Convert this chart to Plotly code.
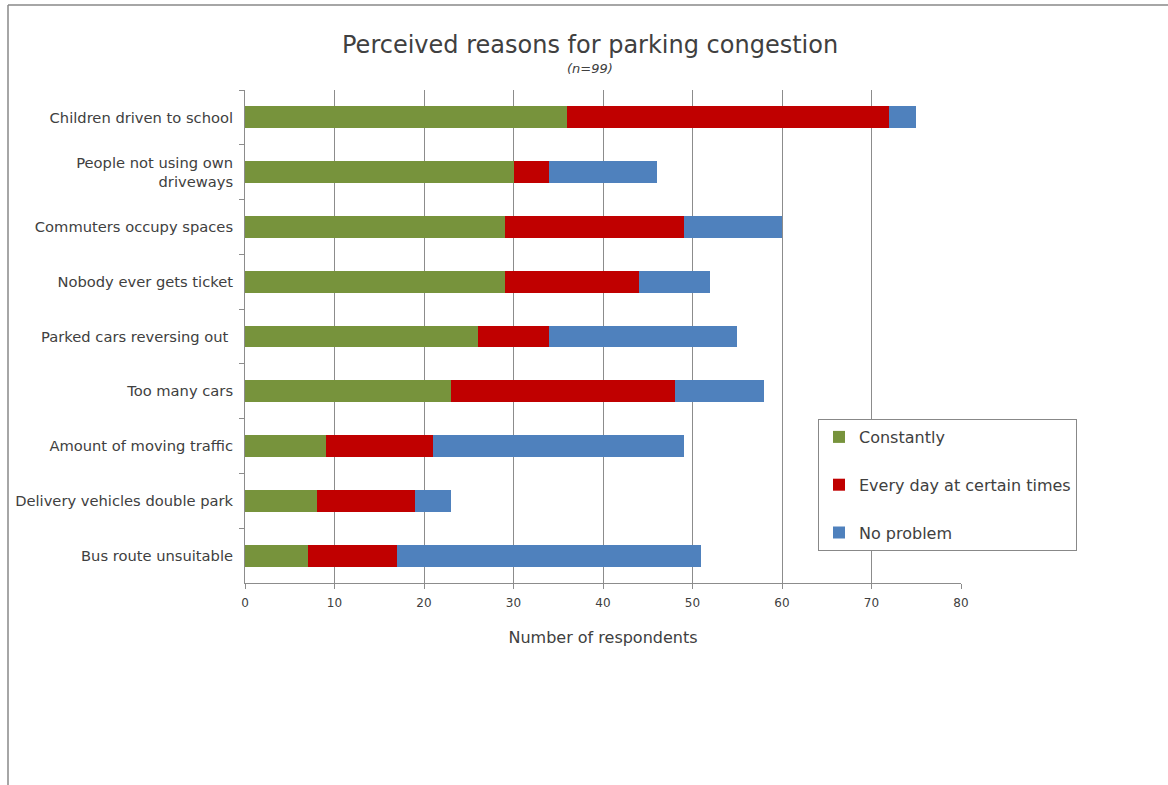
import plotly.graph_objects as go

categories = [
    "Children driven to school",
    "People not using own<br>driveways",
    "Commuters occupy spaces",
    "Nobody ever gets ticket",
    "Parked cars reversing out ",
    "Too many cars",
    "Amount of moving traffic",
    "Delivery vehicles double park",
    "Bus route unsuitable",
]
constantly = [36, 30, 29, 29, 26, 23, 9, 8, 7]
every_day = [36, 4, 20, 15, 8, 25, 12, 11, 10]
no_problem = [3, 12, 11, 8, 21, 10, 28, 4, 34]
x_ticks = [0, 10, 20, 30, 40, 50, 60, 70, 80]

series = [
    ("Constantly", constantly, "#77933C"),
    ("Every day at certain times", every_day, "#C00000"),
    ("No problem", no_problem, "#4F81BD"),
]

W, H = 1168, 785
L, R, T, B = 245, 207, 90, 202
pw, ph = W - L - R, H - T - B

fig = go.Figure()
for name, vals, col in series:
    fig.add_trace(go.Bar(
        y=categories, x=vals, name=name, orientation="h",
        marker=dict(color=col, line=dict(width=0)),
        width=0.4, legendgroup=name,
    ))

font_color = "#404040"
fig.update_layout(
    width=W, height=H,
    margin=dict(l=L, r=R, t=T, b=B),
    barmode="stack",
    paper_bgcolor="white", plot_bgcolor="white",
    font=dict(family="DejaVu Sans, Verdana, sans-serif", color=font_color),
    showlegend=True,
    legend=dict(
        x=(818 - L) / pw, y=1 - (419 - T) / ph, xanchor="left", yanchor="top",
        bordercolor="#888888", borderwidth=1, bgcolor="white",
        font=dict(size=16, color=font_color),
        traceorder="grouped", tracegroupgap=24,
        itemwidth=30,
    ),
    xaxis=dict(
        range=[0, 80], tickvals=x_ticks, ticktext=[str(v) for v in x_ticks],
        showgrid=True, gridcolor="#8c8c8c", gridwidth=1,
        showline=True, linecolor="#8c8c8c", linewidth=1,
        ticks="outside", ticklen=5, tickcolor="#8c8c8c",
        tickfont=dict(size=12, color=font_color), ticklabelstandoff=4,
        zeroline=False,
        title=dict(text="Number of respondents", font=dict(size=16, color=font_color), standoff=22),
    ),
    yaxis=dict(
        autorange="reversed",
        showline=True, linecolor="#8c8c8c", linewidth=1,
        ticks="outside", ticklen=5, tickcolor="#8c8c8c", tickson="boundaries",
        tickfont=dict(size=14.7, color=font_color),
        showgrid=False, ticklabelstandoff=8,
    ),
    annotations=[
        dict(text="Perceived reasons for parking congestion", xref="paper", yref="paper",
             x=(590 - L) / pw, y=1 + (T - 45) / ph, xanchor="center", yanchor="middle",
             showarrow=False, font=dict(size=24, color=font_color)),
        dict(text="<i>(n=99)</i>", xref="paper", yref="paper",
             x=(590 - L) / pw, y=1 + (T - 68) / ph, xanchor="center", yanchor="middle",
             showarrow=False, font=dict(size=13, color=font_color)),
    ],
    shapes=[
        dict(type="line", xref="paper", yref="paper",
             x0=(8 - L) / pw, x1=(W + 5 - L) / pw, y0=1 + (T - 5) / ph, y1=1 + (T - 5) / ph,
             line=dict(color="#888888", width=1.5)),
        dict(type="line", xref="paper", yref="paper",
             x0=(8 - L) / pw, x1=(8 - L) / pw, y0=1 + (T - 5) / ph, y1=-(B + 5) / ph,
             line=dict(color="#888888", width=1.5)),
    ],
)

fig.write_html("out.html")
